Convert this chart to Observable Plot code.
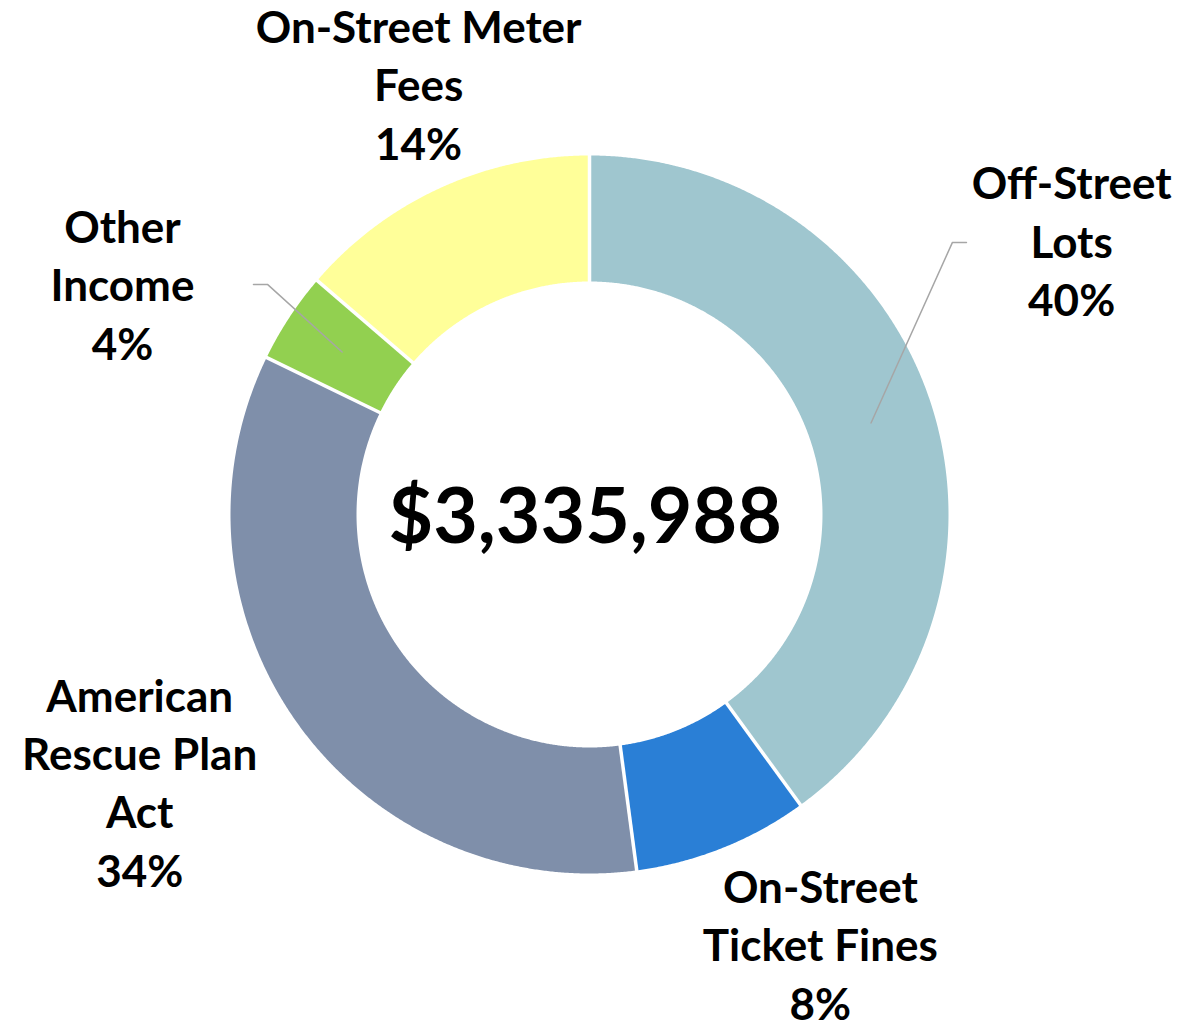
<!DOCTYPE html>
<html>
<head>
<meta charset="utf-8">
<script src="https://cdn.jsdelivr.net/npm/d3@7"></script>
<script src="https://cdn.jsdelivr.net/npm/@observablehq/plot@0.6"></script>
<style>
  html, body { margin: 0; padding: 0; background: #ffffff; }
  svg { display: block; }
</style>
</head>
<body>
<script>
// ---- data ----
const categories = ["Off-Street Lots", "On-Street Ticket Fines", "American Rescue Plan Act", "Other Income", "On-Street Meter Fees"];
const labelText = ["Off-Street\nLots", "On-Street\nTicket Fines", "American\nRescue Plan\nAct", "Other\nIncome", "On-Street Meter\nFees"];
const shares = [40.0, 7.9, 34.3, 4.1, 13.7];   // percent of total
const sliceColors = ["#9FC6CF", "#2A7FD6", "#7F8FAA", "#92D050", "#FFFF99"];
const totalLabel = "$3,335,988";

// ---- layout (data units of the chart, outer radius = 1) ----
const innerRatio = 0.649;
const labelAnchors = [[1.343, 0.767], [0.643, -1.192], [-1.253, -0.741], [-1.301, 0.646], [-0.476, 1.203]];
const leaderBends = [[[1.011, 0.758], [1.050, 0.758]], null, null, [[-0.897, 0.641], [-0.936, 0.641]], null];

// ---- derived geometry ----
const total = d3.sum(shares);
const cum = d3.cumsum(shares);
const starts = shares.map((s, i) => (cum[i] - s) / total * 360);
const ends = shares.map((s, i) => cum[i] / total * 360);
const rad = (a) => a * Math.PI / 180;
const pt = (r, a) => ({x: r * Math.sin(rad(a)), y: r * Math.cos(rad(a))});

const polys = [];
categories.forEach((c, i) => {
  const a0 = starts[i], a1 = ends[i];
  const n = Math.max(8, Math.ceil((a1 - a0) / 0.25));
  const ring = [];
  for (let k = 0; k <= n; k++) ring.push(pt(1, a0 + (a1 - a0) * k / n));
  for (let k = n; k >= 0; k--) ring.push(pt(innerRatio, a0 + (a1 - a0) * k / n));
  ring.push(ring[0]);
  ring.forEach(p => polys.push({cat: c, x: p.x, y: p.y}));
});

const seps = ends.map(a => {
  const p0 = pt(innerRatio - 0.02, a), p1 = pt(1.02, a);
  return {x1: p0.x, y1: p0.y, x2: p1.x, y2: p1.y};
});

const leaders = [];
categories.forEach((c, i) => {
  if (!leaderBends[i]) return;
  const mid = (starts[i] + ends[i]) / 2;
  const p = pt((1 + innerRatio) / 2, mid);
  leaders.push({cat: c, x: p.x, y: p.y});
  leaderBends[i].forEach(b => leaders.push({cat: c, x: b[0], y: b[1]}));
});

const labels = categories.map((c, i) => ({
  cat: c,
  text: labelText[i] + "\n" + Math.round(shares[i] / total * 100) + "%",
  x: labelAnchors[i][0],
  y: labelAnchors[i][1]
}));

const W = 1199, H = 1029, R = 359, CX = 589, CY = 514;
const labelSize = 44;

const chart = Plot.plot({
  width: W,
  height: H,
  marginLeft: CX - R,
  marginRight: W - (CX + R),
  marginTop: CY - R,
  marginBottom: H - (CY + R),
  x: {domain: [-1, 1], axis: null},
  y: {domain: [-1, 1], axis: null},
  color: {domain: categories, range: sliceColors},
  style: {fontFamily: "Lato, 'Open Sans', sans-serif", background: "#ffffff"},
  marks: [
    Plot.line(polys, {x: "x", y: "y", z: "cat", fill: "cat", stroke: "none", curve: "linear"}),
    Plot.link(seps, {x1: "x1", y1: "y1", x2: "x2", y2: "y2", stroke: "#ffffff", strokeWidth: 3.5}),
    Plot.line(leaders, {x: "x", y: "y", z: "cat", stroke: "#A6A6A6", strokeWidth: 1.5, curve: "linear"}),
    Plot.text(labels, {x: "x", y: "y", text: "text", fontSize: labelSize, fontWeight: 700, fill: "#000000", lineHeight: 58.5 / labelSize, textAnchor: "middle"}),
    Plot.text([totalLabel], {x: () => -0.012, y: () => -0.011, text: d => d, fontSize: 77, fontWeight: 700, fill: "#000000", textAnchor: "middle"})
  ]
});
document.body.append(chart);
</script>
</body>
</html>
